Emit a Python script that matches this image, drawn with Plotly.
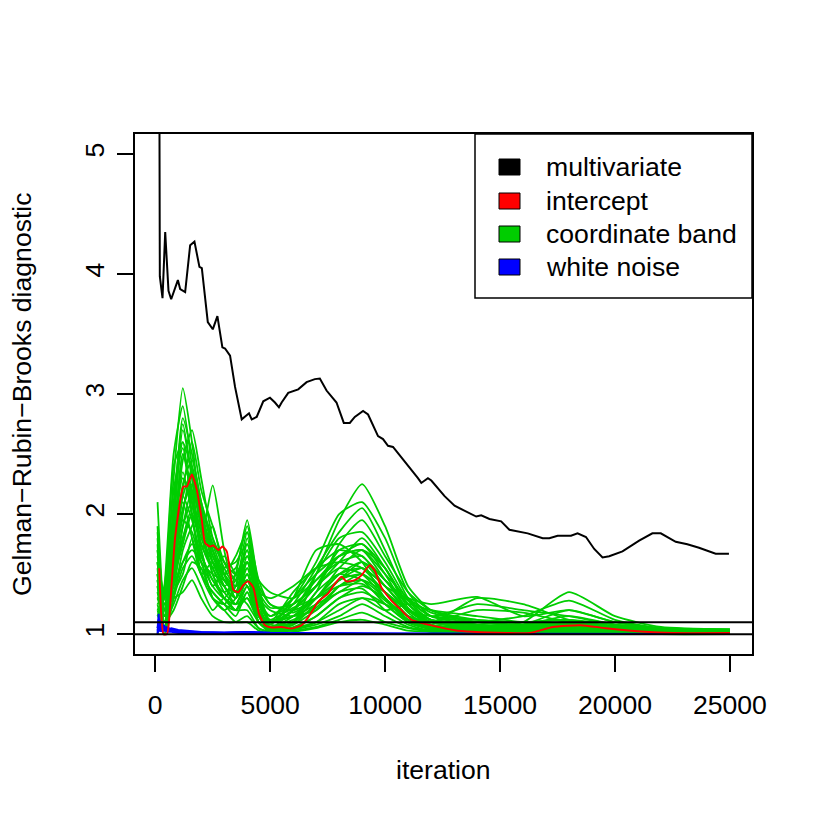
import plotly.graph_objects as go

# iterations shared by the coordinate-band series
band_iter = [100, 400, 800, 1200, 1600, 2000, 2500, 3000, 3500, 4000, 4500, 5000,
             6000, 7000, 8000, 9000, 10000, 11000, 12000, 14000, 16000, 18000,
             20000, 22000, 25000]

band_series = [
    [1.70, 1.30, 2.30, 3.05, 2.60, 2.00, 1.70, 1.50, 1.40, 1.45, 1.20, 1.08, 1.10, 1.50, 1.95, 2.25, 1.90, 1.40, 1.20, 1.10, 1.08, 1.10, 1.06, 1.04, 1.03],
    [2.10, 1.20, 2.00, 2.80, 2.50, 2.10, 1.80, 1.60, 1.50, 1.60, 1.30, 1.15, 1.30, 1.60, 2.00, 2.10, 1.80, 1.35, 1.15, 1.08, 1.05, 1.08, 1.05, 1.03, 1.02],
    [1.50, 1.10, 1.90, 2.70, 2.30, 1.70, 1.90, 1.50, 1.30, 1.80, 1.30, 1.10, 1.25, 1.55, 1.85, 2.05, 1.70, 1.30, 1.15, 1.25, 1.20, 1.15, 1.08, 1.05, 1.03],
    [1.30, 1.40, 2.40, 2.60, 2.00, 1.60, 1.40, 1.30, 1.50, 1.95, 1.40, 1.10, 1.20, 1.40, 1.65, 1.75, 1.50, 1.20, 1.10, 1.05, 1.04, 1.05, 1.03, 1.02, 1.02],
    [1.80, 1.20, 1.60, 2.20, 2.60, 2.20, 1.90, 1.60, 1.45, 1.70, 1.25, 1.12, 1.15, 1.30, 1.55, 1.70, 1.55, 1.25, 1.10, 1.30, 1.25, 1.12, 1.07, 1.04, 1.03],
    [1.20, 1.30, 1.80, 2.50, 2.20, 1.80, 2.24, 1.70, 1.35, 1.50, 1.20, 1.05, 1.10, 1.25, 1.45, 1.60, 1.45, 1.20, 1.08, 1.05, 1.10, 1.35, 1.15, 1.06, 1.04],
    [1.60, 1.10, 1.50, 2.00, 2.40, 2.00, 1.60, 1.40, 1.30, 1.55, 1.15, 1.05, 1.20, 1.45, 1.60, 1.65, 1.40, 1.30, 1.25, 1.31, 1.15, 1.20, 1.10, 1.05, 1.04],
    [1.40, 1.05, 1.70, 2.35, 2.00, 1.50, 1.30, 1.25, 1.40, 1.85, 1.30, 1.10, 1.15, 1.20, 1.40, 1.50, 1.35, 1.15, 1.05, 1.03, 1.03, 1.04, 1.02, 1.02, 1.01],
    [1.90, 1.30, 1.40, 1.90, 2.20, 1.90, 1.50, 1.30, 1.20, 1.40, 1.10, 1.03, 1.05, 1.15, 1.30, 1.40, 1.30, 1.10, 1.05, 1.10, 1.15, 1.28, 1.12, 1.05, 1.03],
    [1.30, 1.15, 1.60, 2.10, 1.80, 1.50, 1.60, 1.40, 1.25, 1.30, 1.10, 1.04, 1.10, 1.35, 1.50, 1.45, 1.25, 1.10, 1.04, 1.02, 1.02, 1.03, 1.02, 1.01, 1.01],
    [1.10, 1.20, 1.50, 1.80, 2.00, 1.70, 1.40, 1.50, 1.30, 1.60, 1.20, 1.08, 1.30, 1.70, 1.75, 1.60, 1.30, 1.15, 1.10, 1.08, 1.06, 1.10, 1.05, 1.03, 1.02],
    [1.50, 1.00, 1.30, 1.70, 1.90, 2.05, 1.70, 1.45, 1.35, 1.25, 1.10, 1.02, 1.05, 1.10, 1.20, 1.30, 1.25, 1.15, 1.10, 1.20, 1.18, 1.10, 1.06, 1.04, 1.02],
    [1.20, 1.05, 1.40, 1.60, 1.70, 1.60, 1.30, 1.20, 1.30, 1.50, 1.15, 1.04, 1.08, 1.20, 1.35, 1.38, 1.20, 1.08, 1.03, 1.02, 1.02, 1.02, 1.01, 1.01, 1.01],
    [1.70, 1.20, 1.35, 1.50, 1.80, 1.50, 1.35, 1.25, 1.15, 1.35, 1.10, 1.03, 1.04, 1.10, 1.25, 1.30, 1.20, 1.25, 1.20, 1.15, 1.10, 1.08, 1.05, 1.03, 1.02],
    [1.40, 1.10, 1.25, 1.45, 1.55, 1.40, 1.20, 1.30, 1.20, 1.20, 1.05, 1.02, 1.04, 1.08, 1.15, 1.25, 1.15, 1.06, 1.03, 1.05, 1.08, 1.20, 1.10, 1.05, 1.02],
    [1.00, 1.25, 1.30, 1.35, 1.45, 1.30, 1.15, 1.10, 1.10, 1.15, 1.05, 1.02, 1.03, 1.06, 1.12, 1.18, 1.10, 1.05, 1.02, 1.02, 1.01, 1.02, 1.01, 1.01, 1.01],
    [1.60, 1.15, 2.10, 2.75, 2.30, 1.90, 1.70, 1.45, 1.35, 1.65, 1.25, 1.06, 1.15, 1.35, 1.75, 1.95, 1.65, 1.35, 1.20, 1.12, 1.10, 1.12, 1.06, 1.03, 1.02],
    [1.25, 1.35, 2.20, 2.55, 2.10, 1.75, 1.55, 1.35, 1.25, 1.40, 1.15, 1.05, 1.10, 1.30, 1.50, 1.55, 1.40, 1.18, 1.06, 1.04, 1.03, 1.05, 1.03, 1.02, 1.01],
    [1.45, 1.05, 1.75, 2.45, 2.70, 2.30, 1.80, 1.55, 1.40, 1.75, 1.30, 1.10, 1.20, 1.40, 1.70, 1.75, 1.55, 1.22, 1.10, 1.06, 1.04, 1.06, 1.04, 1.02, 1.02],
    [1.15, 1.10, 1.45, 1.90, 2.10, 1.85, 1.50, 1.30, 1.20, 1.35, 1.10, 1.03, 1.06, 1.15, 1.30, 1.35, 1.25, 1.10, 1.05, 1.03, 1.02, 1.03, 1.02, 1.01, 1.01],
    [1.35, 1.20, 1.65, 2.15, 1.95, 1.65, 1.45, 1.35, 1.45, 1.70, 1.20, 1.06, 1.12, 1.22, 1.40, 1.45, 1.30, 1.12, 1.05, 1.04, 1.05, 1.10, 1.04, 1.02, 1.02],
    [1.55, 1.10, 1.20, 1.40, 1.60, 1.55, 1.30, 1.20, 1.10, 1.10, 1.03, 1.01, 1.02, 1.05, 1.10, 1.12, 1.08, 1.03, 1.02, 1.01, 1.01, 1.01, 1.01, 1.00, 1.00],
    [1.05, 1.40, 2.50, 2.90, 2.40, 1.95, 1.65, 1.50, 1.55, 1.90, 1.35, 1.10, 1.20, 1.50, 1.80, 1.85, 1.60, 1.28, 1.12, 1.08, 1.06, 1.08, 1.05, 1.03, 1.02],
    [1.75, 1.00, 1.55, 2.25, 2.45, 2.10, 1.75, 1.50, 1.30, 1.45, 1.15, 1.04, 1.08, 1.25, 1.45, 1.50, 1.35, 1.15, 1.07, 1.05, 1.04, 1.07, 1.04, 1.02, 1.02],
    [1.30, 1.25, 1.55, 1.95, 1.85, 1.60, 1.50, 1.45, 1.40, 1.55, 1.35, 1.30, 1.40, 1.55, 1.60, 1.55, 1.35, 1.20, 1.15, 1.12, 1.10, 1.12, 1.08, 1.05, 1.04],
    [1.60, 1.15, 1.45, 1.75, 2.00, 1.80, 1.55, 1.40, 1.50, 1.65, 1.40, 1.25, 1.20, 1.30, 1.50, 1.60, 1.40, 1.20, 1.10, 1.06, 1.05, 1.06, 1.04, 1.02, 1.02],
    [1.20, 1.30, 1.90, 2.30, 2.10, 1.70, 1.40, 1.55, 1.60, 1.75, 1.45, 1.35, 1.30, 1.45, 1.65, 1.70, 1.45, 1.25, 1.12, 1.10, 1.08, 1.15, 1.08, 1.04, 1.03],
    [1.45, 1.10, 1.35, 1.60, 1.75, 1.65, 1.45, 1.30, 1.25, 1.45, 1.25, 1.15, 1.25, 1.40, 1.55, 1.50, 1.30, 1.12, 1.05, 1.04, 1.03, 1.04, 1.03, 1.02, 1.01],
    [1.85, 1.25, 1.70, 2.15, 2.35, 2.05, 1.65, 1.45, 1.35, 1.60, 1.30, 1.20, 1.15, 1.25, 1.35, 1.45, 1.35, 1.20, 1.12, 1.08, 1.06, 1.08, 1.05, 1.03, 1.02],
    [1.15, 1.35, 1.60, 2.05, 2.25, 1.95, 1.60, 1.40, 1.30, 1.50, 1.20, 1.10, 1.35, 1.55, 1.70, 1.65, 1.45, 1.28, 1.15, 1.10, 1.08, 1.10, 1.06, 1.03, 1.02],
    [1.50, 1.20, 1.80, 2.50, 2.15, 1.85, 1.60, 1.50, 1.65, 1.85, 1.45, 1.25, 1.18, 1.30, 1.45, 1.55, 1.40, 1.20, 1.08, 1.05, 1.04, 1.06, 1.03, 1.02, 1.02],
    [1.25, 1.05, 1.30, 1.55, 1.65, 1.50, 1.35, 1.25, 1.20, 1.30, 1.15, 1.12, 1.22, 1.30, 1.40, 1.42, 1.28, 1.12, 1.05, 1.03, 1.02, 1.03, 1.02, 1.01, 1.01],
    [1.65, 1.30, 2.00, 2.60, 2.35, 1.95, 1.75, 1.60, 1.45, 1.60, 1.35, 1.22, 1.25, 1.40, 1.60, 1.80, 1.55, 1.25, 1.12, 1.07, 1.05, 1.07, 1.04, 1.02, 1.02],
    [1.35, 1.15, 1.45, 1.80, 2.05, 1.75, 1.55, 1.65, 1.50, 1.40, 1.25, 1.15, 1.30, 1.50, 1.65, 1.70, 1.50, 1.30, 1.18, 1.10, 1.07, 1.09, 1.05, 1.03, 1.02],
]

noise_iter = [100, 150, 200, 250, 300, 400, 500, 700, 1000, 1500, 2000, 3000, 4000,
              5000, 7000, 10000, 15000, 20000, 25000]
noise_series = [
    [1.05, 1.17, 1.02, 1.08, 1.03, 1.06, 1.04, 1.03, 1.02, 1.02, 1.015, 1.01, 1.01, 1.01, 1.005, 1.005, 1.003, 1.003, 1.002],
    [1.02, 1.10, 1.12, 1.04, 1.07, 1.03, 1.05, 1.03, 1.025, 1.015, 1.01, 1.01, 1.02, 1.01, 1.005, 1.004, 1.003, 1.002, 1.002],
    [1.01, 1.05, 1.08, 1.10, 1.02, 1.04, 1.02, 1.02, 1.01, 1.01, 1.01, 1.005, 1.01, 1.005, 1.004, 1.003, 1.002, 1.002, 1.001],
    [1.03, 1.13, 1.06, 1.02, 1.09, 1.05, 1.06, 1.04, 1.03, 1.02, 1.015, 1.012, 1.015, 1.008, 1.006, 1.004, 1.003, 1.002, 1.002],
    [1.00, 1.08, 1.04, 1.06, 1.05, 1.07, 1.03, 1.05, 1.035, 1.025, 1.02, 1.015, 1.02, 1.012, 1.008, 1.005, 1.004, 1.003, 1.002],
]

intercept_iter = [174, 260, 360, 508, 577, 868, 1228, 1376, 1593, 1810, 2027, 2170, 2387,
                  2530, 2747, 2921, 3112, 3398, 3615, 3832, 4049, 4266, 4514, 4774, 5065,
                  5499, 5933, 6367, 6654, 7088, 7522, 7812, 8103, 8320, 8681, 8971, 9332,
                  9549, 9839, 10273, 10707, 11142, 11575, 12153, 13021, 13800, 15300,
                  16300, 17300, 18500, 19600, 21300, 22500, 25000]
intercept_vals = [1.55, 1.17, 1.00, 1.00, 1.06, 1.81, 2.23, 2.23, 2.33, 2.20, 1.95, 1.76, 1.73,
                  1.74, 1.70, 1.73, 1.69, 1.37, 1.35, 1.41, 1.44, 1.39, 1.17, 1.075, 1.056,
                  1.06, 1.047, 1.075, 1.14, 1.27, 1.34, 1.42, 1.48, 1.44, 1.45, 1.49, 1.575,
                  1.53, 1.39, 1.28, 1.20, 1.12, 1.094, 1.067, 1.033, 1.02, 1.01,
                  1.01, 1.06, 1.075, 1.05, 1.02, 1.01, 1.01]

multi_iter = [150, 200, 317, 434, 577, 694, 985, 1085, 1302, 1519, 1706, 1923, 2027, 2287,
              2504, 2704, 2921, 3038, 3255, 3472, 3763, 4080, 4197, 4414, 4700, 4991, 5208,
              5382, 5499, 5786, 6220, 6584, 6944, 7161, 7452, 7739, 7886, 8203, 8464, 8681,
              9041, 9258, 9692, 9909, 10126, 10343, 10560, 11000, 11428, 11575, 11862, 12010,
              12370, 12587, 13021, 13672, 13962, 14180, 14540, 15048, 15408, 16203, 16854,
              17144, 17505, 18085, 18372, 18737, 19097, 19458, 19748, 20326, 21050, 21627,
              21992, 22643, 23147, 23655, 24379, 24957]
multi_vals = [8.0, 3.98, 3.80, 4.35, 3.86, 3.79, 3.95, 3.875, 3.85, 4.24, 4.27, 4.06, 4.05, 3.60,
              3.54, 3.65, 3.39, 3.38, 3.32, 3.06, 2.79, 2.84, 2.79, 2.81, 2.94, 2.97, 2.93,
              2.89, 2.93, 3.01, 3.04, 3.10, 3.125, 3.13, 3.03, 2.96, 2.93, 2.76, 2.76, 2.81,
              2.86, 2.83, 2.65, 2.625, 2.57, 2.56, 2.51, 2.40, 2.30, 2.26, 2.30, 2.28,
              2.20, 2.15, 2.07, 2.01, 1.98, 1.99, 1.96, 1.94, 1.87, 1.84, 1.80,
              1.80, 1.82, 1.82, 1.84, 1.81, 1.71, 1.64, 1.65, 1.69, 1.78, 1.84,
              1.84, 1.77, 1.75, 1.72, 1.67, 1.67]

ref_levels = [1.0, 1.1]
x_ticks = [0, 5000, 10000, 15000, 20000, 25000]
y_ticks = [1, 2, 3, 4, 5]

legend_labels = ["multivariate", "intercept", "coordinate band", "white noise"]
legend_colors = ["#000000", "#FF0000", "#00CD00", "#0000FF"]

FONT = "Liberation Sans, Arial, Helvetica, sans-serif"
FS = 26.6

fig = go.Figure()

for ys in band_series:
    fig.add_trace(go.Scatter(x=band_iter, y=ys, mode="lines",
                             line=dict(color="#00CD00", width=1.8, shape="spline", smoothing=0.6),
                             showlegend=False, hoverinfo="skip"))

for ys in noise_series:
    fig.add_trace(go.Scatter(x=noise_iter, y=ys, mode="lines",
                             line=dict(color="#0000FF", width=1.8),
                             showlegend=False, hoverinfo="skip"))

fig.add_trace(go.Scatter(x=intercept_iter, y=intercept_vals, mode="lines",
                         line=dict(color="#FF0000", width=1.9, shape="spline", smoothing=0.5),
                         showlegend=False))

fig.add_trace(go.Scatter(x=multi_iter, y=multi_vals, mode="lines",
                         line=dict(color="#000000", width=2),
                         showlegend=False))

for lv in ref_levels:
    fig.add_shape(type="line", xref="paper", x0=0, x1=1, yref="y", y0=lv, y1=lv,
                  line=dict(color="black", width=2), layer="above")

# plot area in window pixels: x 135..752, y 134..654
# (the page body has an 8px margin, so the figure itself is shifted by that)
L, R, T, B = 135, 752, 134, 654
OFF = 8
W = 822 - OFF


def px_x(p):
    return (p - L) / (R - L)


def px_y(p):
    return (B - p) / (B - T)


# legend drawn by hand, R style (filled boxes)
fig.add_shape(type="rect", xref="paper", yref="paper",
              x0=px_x(475), x1=1, y0=px_y(298), y1=1,
              line=dict(color="black", width=1.5), fillcolor="white", layer="above")
row_y = [167, 201, 234, 267]
for lab, col, yc in zip(legend_labels, legend_colors, row_y):
    fig.add_shape(type="rect", xref="paper", yref="paper",
                  x0=px_x(499), x1=px_x(520), y0=px_y(yc + 8), y1=px_y(yc - 8),
                  line=dict(color="black", width=1), fillcolor=col, layer="above")
    fig.add_annotation(text=lab, xref="paper", yref="paper", x=px_x(544), y=px_y(yc),
                       xanchor="left", yanchor="middle", showarrow=False,
                       font=dict(family=FONT, size=FS, color="black"))

fig.add_annotation(text="iteration", xref="paper", yref="paper", x=0.5, y=px_y(770),
                   xanchor="center", yanchor="middle", showarrow=False,
                   font=dict(family=FONT, size=FS, color="black"))
fig.add_annotation(text="Gelman\u2212Rubin\u2212Brooks diagnostic", xref="paper", yref="paper",
                   x=px_x(22), y=px_y(394), textangle=-90,
                   xanchor="center", yanchor="middle", showarrow=False,
                   font=dict(family=FONT, size=FS, color="black"))

fig.update_xaxes(range=[-880, 25960], tickvals=x_ticks, ticktext=[str(v) for v in x_ticks],
                 ticks="outside", ticklen=16, tickwidth=1.5, tickcolor="black",
                 showline=True, linecolor="black", linewidth=1.5, mirror=True,
                 showgrid=False, zeroline=False, ticklabelstandoff=10,
                 tickfont=dict(family=FONT, size=FS, color="black"))
fig.update_yaxes(range=[0.835, 5.167], tickvals=y_ticks, ticktext=[str(v) for v in y_ticks],
                 ticks="outside", ticklen=16, tickwidth=1.5, tickcolor="black",
                 showline=True, linecolor="black", linewidth=1.5, mirror=True,
                 showgrid=False, zeroline=False, tickangle=-90, ticklabelstandoff=3,
                 tickfont=dict(family=FONT, size=FS, color="black"))

fig.update_layout(width=W, height=W, autosize=False,
                  margin=dict(l=L - OFF, r=822 - R, t=T - OFF, b=822 - B),
                  paper_bgcolor="white", plot_bgcolor="white", showlegend=False)

fig.write_html("out.html")
